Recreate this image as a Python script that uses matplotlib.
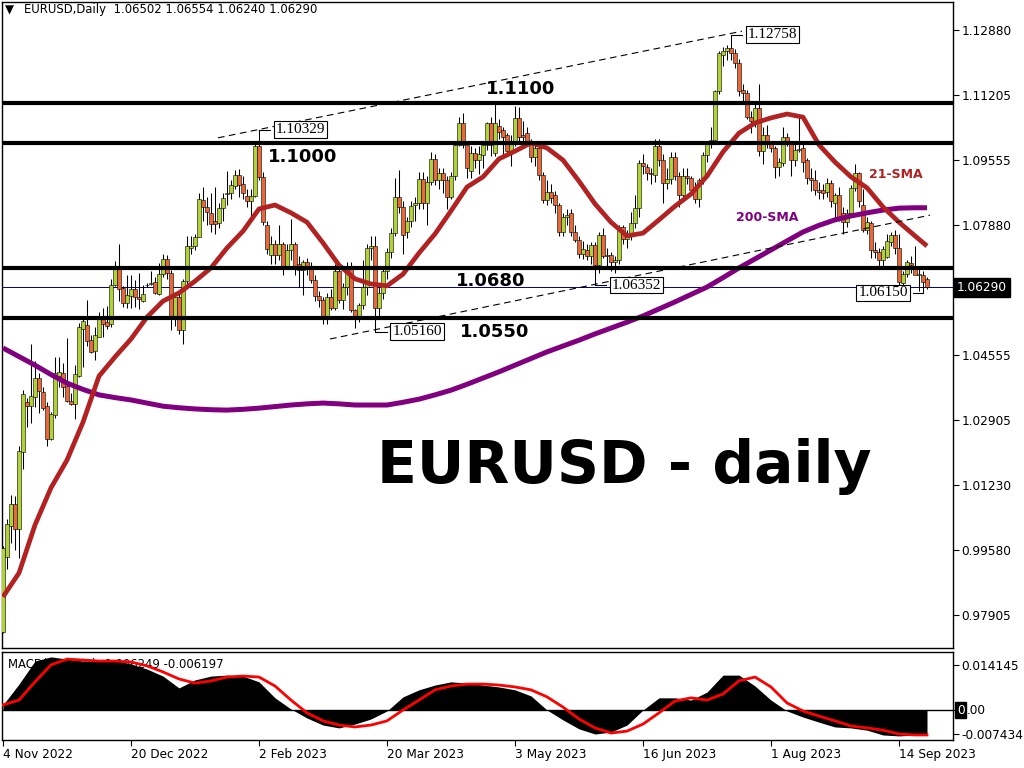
import numpy as np
import pandas as pd
import matplotlib
matplotlib.use("Agg")
import matplotlib.pyplot as plt
from matplotlib.transforms import blended_transform_factory

# EURUSD daily candles, 4 Nov 2022 -> 25 Sep 2023
dates = pd.bdate_range("2022-11-04", periods=232)

opens = [
    0.9748, 0.9940, 1.0019, 1.0074, 1.0011, 1.0209, 1.0335, 1.0326, 1.0348, 1.0396,
    1.0361, 1.0326, 1.0240, 1.0302, 1.0403, 1.0409, 1.0377, 1.0338, 1.0330, 1.0403,
    1.0523, 1.0534, 1.0494, 1.0467, 1.0503, 1.0553, 1.0540, 1.0536, 1.0634, 1.0682,
    1.0627, 1.0590, 1.0606, 1.0624, 1.0605, 1.0595, 1.0634, 1.0637, 1.0642, 1.0611,
    1.0663, 1.0703, 1.0665, 1.0550, 1.0605, 1.0520, 1.0645, 1.0730, 1.0734, 1.0759,
    1.0853, 1.0836, 1.0820, 1.0798, 1.0794, 1.0833, 1.0867, 1.0872, 1.0889, 1.0917,
    1.0893, 1.0864, 1.0851, 1.0863, 1.0991, 1.0911, 1.0790, 1.0712, 1.0740, 1.0712,
    1.0740, 1.0685, 1.0725, 1.0740, 1.0690, 1.0674, 1.0695, 1.0685, 1.0648, 1.0607,
    1.0597, 1.0548, 1.0605, 1.0576, 1.0670, 1.0597, 1.0630, 1.0685, 1.0571, 1.0548,
    1.0583, 1.0631, 1.0729, 1.0736, 1.0576, 1.0614, 1.0670, 1.0721, 1.0769, 1.0860,
    1.0836, 1.0772, 1.0799, 1.0840, 1.0844, 1.0906, 1.0844, 1.0900, 1.0957, 1.0904,
    1.0921, 1.0904, 1.0861, 1.0913, 1.0994, 1.1049, 1.0994, 1.0928, 1.0974, 1.0955,
    1.0968, 1.0994, 1.1049, 1.0972, 1.1041, 1.1032, 1.1019, 1.0977, 1.1002, 1.1062,
    1.1020, 1.1024, 1.1002, 1.0964, 1.0985, 1.0917, 1.0853, 1.0874, 1.0866, 1.0840,
    1.0772, 1.0809, 1.0819, 1.0772, 1.0751, 1.0715, 1.0725, 1.0710, 1.0738, 1.0687,
    1.0763, 1.0710, 1.0712, 1.0695, 1.0699, 1.0785, 1.0752, 1.0760, 1.0793, 1.0832,
    1.0947, 1.0938, 1.0923, 1.0917, 1.0990, 1.0955, 1.0896, 1.0907, 1.0964, 1.0913,
    1.0866, 1.0913, 1.0909, 1.0879, 1.0855, 1.0904, 1.0968, 1.0998, 1.1007, 1.1132,
    1.1224, 1.1233, 1.1241, 1.1228, 1.1203, 1.1135, 1.1128, 1.1066, 1.1056, 1.1088,
    1.0977, 1.1019, 1.0998, 1.0985, 1.0938, 1.0947, 1.1015, 1.1002, 1.0955, 1.0981,
    1.0985, 1.0955, 1.0908, 1.0904, 1.0879, 1.0879, 1.0874, 1.0896, 1.0844, 1.0866,
    1.0819, 1.0797, 1.0819, 1.0883, 1.0921, 1.0840, 1.0776, 1.0793, 1.0725, 1.0721,
    1.0699, 1.0708, 1.0746, 1.0763, 1.0729, 1.0641, 1.0663, 1.0691, 1.0681, 1.0661,
    1.0661, 1.0650,
]
highs = [
    0.9966, 1.0036, 1.0097, 1.0094, 1.0222, 1.0367, 1.0345, 1.0483, 1.0441, 1.0409,
    1.0375, 1.0336, 1.0311, 1.0452, 1.0452, 1.0435, 1.0500, 1.0358, 1.0431, 1.0537,
    1.0550, 1.0597, 1.0506, 1.0529, 1.0567, 1.0576, 1.0581, 1.0650, 1.0697, 1.0740,
    1.0633, 1.0661, 1.0661, 1.0648, 1.0665, 1.0635, 1.0640, 1.0671, 1.0657, 1.0691,
    1.0715, 1.0713, 1.0674, 1.0615, 1.0612, 1.0650, 1.0760, 1.0760, 1.0765, 1.0870,
    1.0885, 1.0860, 1.0870, 1.0887, 1.0845, 1.0870, 1.0927, 1.0905, 1.0930, 1.0932,
    1.0915, 1.0880, 1.0880, 1.1000, 1.1033, 1.0925, 1.0800, 1.0760, 1.0750, 1.0790,
    1.0745, 1.0740, 1.0805, 1.0745, 1.0710, 1.0700, 1.0705, 1.0695, 1.0660, 1.0620,
    1.0605, 1.0615, 1.0625, 1.0690, 1.0680, 1.0640, 1.0695, 1.0695, 1.0575, 1.0590,
    1.0700, 1.0740, 1.0760, 1.0760, 1.0630, 1.0680, 1.0730, 1.0780, 1.0910, 1.0930,
    1.0850, 1.0810, 1.0850, 1.0860, 1.0925, 1.0925, 1.0915, 1.0975, 1.0970, 1.0935,
    1.0935, 1.0915, 1.0925, 1.1000, 1.1065, 1.1075, 1.1000, 1.0990, 1.0985, 1.0990,
    1.1000, 1.1053, 1.1065, 1.1100, 1.1060, 1.1040, 1.1025, 1.1020, 1.1093, 1.1090,
    1.1055, 1.1040, 1.1010, 1.0995, 1.0990, 1.0925, 1.0905, 1.0895, 1.0875, 1.0845,
    1.0820, 1.0830, 1.0830, 1.0790, 1.0760, 1.0748, 1.0740, 1.0745, 1.0745, 1.0770,
    1.0780, 1.0730, 1.0720, 1.0710, 1.0790, 1.0790, 1.0775, 1.0822, 1.0865, 1.0955,
    1.0970, 1.0945, 1.0935, 1.1010, 1.1010, 1.0970, 1.0935, 1.0975, 1.0975, 1.0925,
    1.0935, 1.0935, 1.0915, 1.0900, 1.0910, 1.0975, 1.1000, 1.1040, 1.1135, 1.1235,
    1.1245, 1.1250, 1.1276, 1.1240, 1.1215, 1.1150, 1.1135, 1.1080, 1.1100, 1.1150,
    1.1040, 1.1045, 1.1005, 1.0990, 1.0960, 1.1040, 1.1025, 1.1005, 1.0995, 1.1065,
    1.1000, 1.0960, 1.0935, 1.0930, 1.0900, 1.0895, 1.0910, 1.0905, 1.0870, 1.0885,
    1.0835, 1.0830, 1.0890, 1.0945, 1.0925, 1.0880, 1.0810, 1.0800, 1.0745, 1.0730,
    1.0735, 1.0765, 1.0770, 1.0775, 1.0765, 1.0670, 1.0700, 1.0710, 1.0735, 1.0675,
    1.0672, 1.0655,
]
lows = [
    0.9744, 0.9908, 0.9974, 0.9957, 0.9936, 1.0164, 1.0273, 1.0281, 1.0324, 1.0307,
    1.0315, 1.0223, 1.0238, 1.0296, 1.0375, 1.0349, 1.0337, 1.0328, 1.0291, 1.0401,
    1.0426, 1.0479, 1.0460, 1.0443, 1.0501, 1.0503, 1.0523, 1.0529, 1.0632, 1.0595,
    1.0580, 1.0576, 1.0576, 1.0578, 1.0574, 1.0593, 1.0630, 1.0635, 1.0612, 1.0610,
    1.0657, 1.0650, 1.0520, 1.0530, 1.0510, 1.0484, 1.0635, 1.0715, 1.0725, 1.0758,
    1.0800, 1.0790, 1.0770, 1.0766, 1.0780, 1.0800, 1.0840, 1.0855, 1.0880, 1.0860,
    1.0855, 1.0835, 1.0802, 1.0860, 1.0905, 1.0790, 1.0715, 1.0690, 1.0690, 1.0700,
    1.0660, 1.0675, 1.0700, 1.0660, 1.0630, 1.0610, 1.0660, 1.0640, 1.0595, 1.0580,
    1.0535, 1.0535, 1.0570, 1.0570, 1.0590, 1.0575, 1.0610, 1.0565, 1.0525, 1.0540,
    1.0575, 1.0610, 1.0700, 1.0516, 1.0550, 1.0600, 1.0650, 1.0705, 1.0760, 1.0820,
    1.0715, 1.0755, 1.0785, 1.0800, 1.0830, 1.0830, 1.0790, 1.0890, 1.0890, 1.0880,
    1.0870, 1.0830, 1.0855, 1.0905, 1.0990, 1.0985, 1.0910, 1.0910, 1.0935, 1.0920,
    1.0935, 1.0980, 1.0965, 1.0965, 1.1010, 1.0960, 1.0965, 1.0940, 1.0990, 1.1000,
    1.0985, 1.0990, 1.0950, 1.0940, 1.0905, 1.0845, 1.0840, 1.0845, 1.0820, 1.0760,
    1.0760, 1.0790, 1.0760, 1.0745, 1.0705, 1.0702, 1.0700, 1.0690, 1.0635, 1.0665,
    1.0705, 1.0675, 1.0670, 1.0665, 1.0690, 1.0740, 1.0730, 1.0750, 1.0780, 1.0810,
    1.0920, 1.0905, 1.0895, 1.0900, 1.0940, 1.0845, 1.0880, 1.0895, 1.0905, 1.0835,
    1.0860, 1.0895, 1.0870, 1.0845, 1.0835, 1.0895, 1.0950, 1.0985, 1.1000, 1.1125,
    1.1195, 1.1210, 1.1210, 1.1190, 1.1120, 1.1105, 1.1060, 1.1025, 1.1040, 1.0965,
    1.0945, 1.0985, 1.0975, 1.0910, 1.0915, 1.0940, 1.0990, 1.0915, 1.0940, 1.0975,
    1.0925, 1.0895, 1.0875, 1.0865, 1.0855, 1.0855, 1.0860, 1.0835, 1.0805, 1.0800,
    1.0765, 1.0785, 1.0810, 1.0875, 1.0835, 1.0770, 1.0765, 1.0705, 1.0705, 1.0685,
    1.0685, 1.0705, 1.0735, 1.0715, 1.0632, 1.0632, 1.0655, 1.0665, 1.0670, 1.0620,
    1.0615, 1.0624,
]
closes = [
    0.9961, 1.0024, 1.0074, 1.0011, 1.0210, 1.0355, 1.0326, 1.0351, 1.0396, 1.0365,
    1.0321, 1.0242, 1.0305, 1.0411, 1.0412, 1.0375, 1.0339, 1.0330, 1.0407, 1.0529,
    1.0544, 1.0491, 1.0465, 1.0506, 1.0555, 1.0535, 1.0531, 1.0634, 1.0682, 1.0626,
    1.0590, 1.0609, 1.0624, 1.0605, 1.0599, 1.0611, 1.0636, 1.0640, 1.0614, 1.0663,
    1.0703, 1.0665, 1.0550, 1.0605, 1.0520, 1.0645, 1.0734, 1.0736, 1.0759, 1.0855,
    1.0834, 1.0823, 1.0792, 1.0792, 1.0833, 1.0859, 1.0872, 1.0890, 1.0917, 1.0891,
    1.0870, 1.0851, 1.0863, 1.0992, 1.0911, 1.0796, 1.0727, 1.0740, 1.0712, 1.0740,
    1.0685, 1.0725, 1.0740, 1.0685, 1.0674, 1.0695, 1.0685, 1.0648, 1.0606, 1.0597,
    1.0548, 1.0605, 1.0576, 1.0671, 1.0597, 1.0630, 1.0685, 1.0571, 1.0548, 1.0583,
    1.0631, 1.0729, 1.0736, 1.0576, 1.0614, 1.0670, 1.0721, 1.0769, 1.0860, 1.0836,
    1.0763, 1.0800, 1.0838, 1.0846, 1.0906, 1.0844, 1.0900, 1.0957, 1.0904, 1.0921,
    1.0904, 1.0861, 1.0913, 1.0994, 1.1049, 1.0994, 1.0934, 1.0974, 1.0955, 1.0971,
    1.0994, 1.1049, 1.0994, 1.1049, 1.1028, 1.1015, 1.0977, 1.1002, 1.1062, 1.1015,
    1.1015, 1.1002, 1.0964, 1.0985, 1.0917, 1.0853, 1.0874, 1.0857, 1.0840, 1.0772,
    1.0810, 1.0815, 1.0772, 1.0751, 1.0715, 1.0728, 1.0710, 1.0738, 1.0687, 1.0763,
    1.0710, 1.0712, 1.0695, 1.0699, 1.0785, 1.0752, 1.0760, 1.0793, 1.0832, 1.0947,
    1.0941, 1.0921, 1.0919, 1.0990, 1.0955, 1.0896, 1.0907, 1.0964, 1.0913, 1.0866,
    1.0913, 1.0909, 1.0879, 1.0855, 1.0904, 1.0968, 1.0998, 1.1007, 1.1132, 1.1228,
    1.1233, 1.1241, 1.1228, 1.1203, 1.1132, 1.1126, 1.1066, 1.1056, 1.1088, 1.0977,
    1.1019, 1.0998, 1.0985, 1.0938, 1.0951, 1.1015, 1.1002, 1.0955, 1.0981, 1.0983,
    1.0951, 1.0908, 1.0904, 1.0879, 1.0874, 1.0870, 1.0896, 1.0849, 1.0866, 1.0806,
    1.0797, 1.0819, 1.0883, 1.0921, 1.0849, 1.0776, 1.0797, 1.0725, 1.0721, 1.0699,
    1.0727, 1.0749, 1.0763, 1.0729, 1.0644, 1.0663, 1.0693, 1.0687, 1.0661, 1.0663,
    1.0644, 1.0629,
]

# indicator lines, read every 4th bar (plus the last one)
sample_days = list(range(0, 232, 4)) + [231]
sma21 = [
    0.9837, 0.9898, 1.0021, 1.0116, 1.0187, 1.0284, 1.0402, 1.0451, 1.0497, 1.0553,
    1.0594, 1.0615, 1.0645, 1.0679, 1.0730, 1.0773, 1.0830, 1.0840, 1.0820, 1.0796,
    1.0743, 1.0686, 1.0651, 1.0638, 1.0633, 1.0663, 1.0717, 1.0766, 1.0825, 1.0886,
    1.0912, 1.0958, 1.0978, 1.0999, 1.0986, 1.0955, 1.0901, 1.0843, 1.0796, 1.0761,
    1.0768, 1.0802, 1.0837, 1.0868, 1.0914, 1.0976, 1.1024, 1.1050, 1.1063, 1.1073,
    1.1065, 1.0994, 1.0950, 1.0912, 1.0884, 1.0835, 1.0796, 1.0761, 1.0735,
]
sma200 = [
    1.0474, 1.0452, 1.0430, 1.0406, 1.0384, 1.0368, 1.0354, 1.0347, 1.0341, 1.0333,
    1.0325, 1.0321, 1.0318, 1.0316, 1.0315, 1.0317, 1.0320, 1.0324, 1.0328, 1.0331,
    1.0333, 1.0331, 1.0328, 1.0328, 1.0328, 1.0335, 1.0343, 1.0354, 1.0366, 1.0381,
    1.0397, 1.0413, 1.0430, 1.0447, 1.0464, 1.0479, 1.0494, 1.0510, 1.0525, 1.0540,
    1.0556, 1.0574, 1.0592, 1.0611, 1.0630, 1.0654, 1.0679, 1.0702, 1.0725, 1.0748,
    1.0771, 1.0788, 1.0802, 1.0812, 1.0820, 1.0827, 1.0832, 1.0833, 1.0833,
]
macd_main = [
    0.0016, 0.0081, 0.0153, 0.0166, 0.0159, 0.0153, 0.0153, 0.0156, 0.0144, 0.0128,
    0.0106, 0.0069, 0.0094, 0.0106, 0.0109, 0.0106, 0.0088, 0.0038, 0.0003, -0.0025,
    -0.0047, -0.0056, -0.0044, -0.0028, -0.0003, 0.0041, 0.0063, 0.0078, 0.0088, 0.0084,
    0.0078, 0.0072, 0.0063, 0.0044, 0.0000, -0.0031, -0.0059, -0.0075, -0.0069, -0.0047,
    0.0000, 0.0038, 0.0038, 0.0031, 0.0056, 0.0109, 0.0109, 0.0075, 0.0031, -0.0003,
    -0.0022, -0.0038, -0.0053, -0.0056, -0.0063, -0.0078, -0.0081, -0.0078, -0.0078,
]
macd_signal = [
    0.0016, 0.0031, 0.0088, 0.0141, 0.0159, 0.0156, 0.0153, 0.0153, 0.0150, 0.0138,
    0.0119, 0.0097, 0.0084, 0.0091, 0.0103, 0.0106, 0.0103, 0.0075, 0.0031, -0.0009,
    -0.0034, -0.0047, -0.0053, -0.0047, -0.0034, 0.0000, 0.0031, 0.0063, 0.0075, 0.0081,
    0.0081, 0.0078, 0.0072, 0.0063, 0.0041, 0.0009, -0.0028, -0.0056, -0.0072, -0.0066,
    -0.0044, -0.0009, 0.0028, 0.0038, 0.0031, 0.0050, 0.0091, 0.0103, 0.0072, 0.0022,
    -0.0003, -0.0019, -0.0034, -0.0050, -0.0056, -0.0063, -0.0075, -0.0078, -0.0078,
]

levels = [1.1100, 1.1000, 1.0680, 1.0550]
level_text_pos = [(129.3, 1.1137), (74.9, 1.0963), (122.0, 1.0645), (123.0, 1.0515)]
price_ticks = [1.12880, 1.11205, 1.09555, 1.07880, 1.04555, 1.02905, 1.01230, 0.99580, 0.97905]
last_price = 1.06290
macd_ticks = [0.014145, 0.0, -0.007434]

# swing-point labels: (bar of the extreme, price, label x)
swing_labels = [(64, 1.10329, 74.3), (182, 1.12758, 192.3), (148, 1.06352, 158.3),
                (93, 1.05160, 103.5), (230, 1.06150, 220.0)]
# dashed channel lines (bar, price) pairs
channel_upper = ([53.75, 184.75], [1.1012, 1.1285])
channel_lower = ([81.75, 231.75], [1.0497, 1.0814])

GREEN = "#B0D236"
RED = "#E9683A"
SMALL = 8.7

fig = plt.figure(figsize=(10.24, 7.68), dpi=100)
ax = fig.add_axes([2 / 1024, 120 / 768, 951 / 1024, 646 / 768])
ax2 = fig.add_axes([2 / 1024, 28 / 768, 951 / 1024, 88 / 768])

x = np.arange(len(closes))
o, h, l, c = (np.array(v) for v in (opens, highs, lows, closes))
up = c >= o
ax.axhline(last_price, color="#000080", lw=0.7, zorder=1)
ax.vlines(x, l, h, color="black", lw=0.75, zorder=2)
ax.bar(x, np.maximum(np.abs(c - o), 0.00006), bottom=np.minimum(o, c), width=0.78,
       color=np.where(up, GREEN, RED), edgecolor="black", linewidth=0.4, zorder=3)

ax.plot(sample_days, sma200, color="#800080", lw=3.6, zorder=4, solid_capstyle="butt")
ax.plot(sample_days, sma21, color="#B22222", lw=3.4, zorder=4, solid_capstyle="butt")

for lv in levels:
    ax.axhline(lv, color="black", lw=3.0, zorder=5)
for lv, (tx, ty) in zip(levels, level_text_pos):
    ax.text(tx, ty, f"{lv:.4f}", fontsize=13, fontweight="bold", ha="center",
            va="center", zorder=6)

dash = (0, (6, 4))
ax.plot(*channel_upper, color="black", lw=0.8, ls=dash, zorder=5)
ax.plot(*channel_lower, color="black", lw=0.8, ls=dash, zorder=5)

for bar, price, lx in swing_labels:
    edge = lx - 7.5 if lx > bar else lx + 7.5
    ax.plot([bar, edge], [price, price], color="black", lw=0.8, zorder=6)
    ax.text(lx, price, f"{price:.5f}", family="Liberation Serif", fontsize=11,
            ha="center", va="center", zorder=7,
            bbox=dict(boxstyle="square,pad=0.12", fc="white", ec="black", lw=0.8))

ax.text(223.3, 1.0917, "21-SMA", color="#B22222", fontsize=9, fontweight="bold",
        ha="center", va="center", zorder=6)
ax.text(191.0, 1.0807, "200-SMA", color="#800080", fontsize=9, fontweight="bold",
        ha="center", va="center", zorder=6)
ax.text(155.3, 1.0128, "EURUSD - daily", fontsize=42, fontweight="bold",
        ha="center", va="baseline", zorder=6)

ax.set_xlim(-0.25, 237.5)
ax.set_ylim(0.97060, 1.13597)
ax.set_xticks([])
ax.yaxis.tick_right()
ax.set_yticks(price_ticks)
ax.set_yticklabels([f"{v:.5f}" for v in price_ticks])
ax.tick_params(axis="y", direction="out", length=4, width=0.8, pad=2, labelsize=SMALL)
trans = blended_transform_factory(ax.transAxes, ax.transData)
ax.text(1.004, last_price, f"{last_price:.5f}", transform=trans, color="white",
        fontsize=SMALL, ha="left", va="center", clip_on=False,
        bbox=dict(boxstyle="square,pad=0.25", fc="black", ec="black"))
fig.text(5 / 1024, 1 - 10 / 768, "\u25bc", fontsize=8.5, va="center")
fig.text(24 / 1024, 1 - 10 / 768, "EURUSD,Daily  1.06502 1.06554 1.06240 1.06290",
         fontsize=8.4, va="center")

# MACD panel
ax2.text(0.006, 0.86, "MACD(12,26,9) -0.006249 -0.006197", transform=ax2.transAxes,
         fontsize=8.4, va="center", zorder=1)
ax2.fill_between(sample_days, 0, macd_main, color="black", lw=0, zorder=2)
ax2.axhline(0, color="black", lw=1.0, zorder=3)
ax2.plot(sample_days, macd_signal, color="red", lw=2.0, zorder=4)
ax2.set_xlim(-0.25, 237.5)
ax2.set_ylim(-0.009375, 0.018125)
ax2.yaxis.tick_right()
ax2.set_yticks(macd_ticks)
ax2.set_yticklabels(["0.014145", "", "-0.007434"])
ax2.tick_params(axis="y", direction="out", length=4, width=0.8, pad=2, labelsize=SMALL)
trans2 = blended_transform_factory(ax2.transAxes, ax2.transData)
ax2.text(1.004, 0.0, "0", transform=trans2, color="white", fontsize=SMALL, ha="left",
         va="center", clip_on=False,
         bbox=dict(boxstyle="square,pad=0.15", fc="black", ec="black"))
ax2.text(1.0148, 0.0, ".00", transform=trans2, color="black", fontsize=SMALL,
         ha="left", va="center", clip_on=False)

tick_idx = list(range(0, 232, 32))
ax2.set_xticks(tick_idx)
ax2.set_xticklabels([f"{dates[i].day} {dates[i]:%b %Y}" for i in tick_idx])
for lbl in ax2.get_xticklabels():
    lbl.set_horizontalalignment("left")
ax2.tick_params(axis="x", direction="out", length=4, width=0.8, pad=2, labelsize=SMALL)

for a in (ax, ax2):
    for s in a.spines.values():
        s.set_color("black")
        s.set_linewidth(1.0)

fig.savefig("out.png", dpi=100, facecolor="white")
